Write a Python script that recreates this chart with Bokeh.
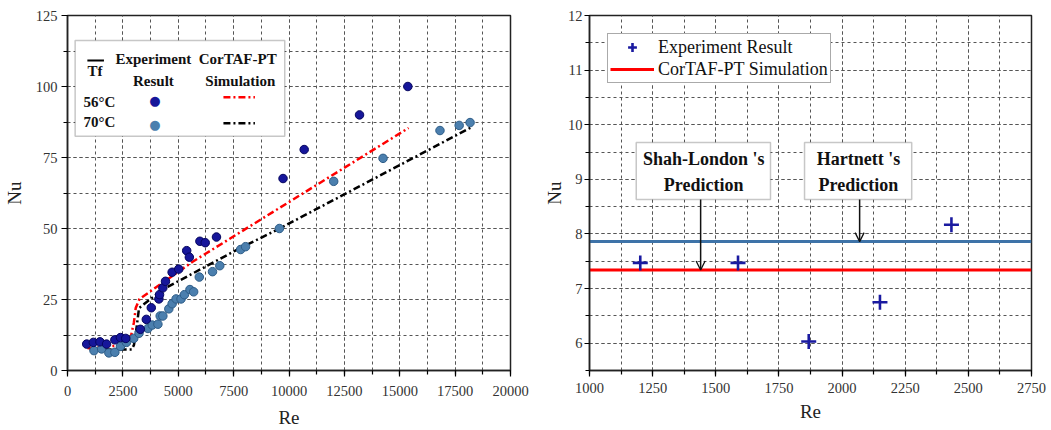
from bokeh.plotting import figure
from bokeh.layouts import row
from bokeh.models import (Range1d, SingleIntervalTicker, BoxAnnotation, Label, Arrow,
                          OpenHead, Legend, LegendItem)
from bokeh.embed import file_html
from bokeh.resources import INLINE

# ---------------- Left panel data ----------------
re_56 = [867, 1166, 1465, 1763, 2138, 2392, 2631, 3289, 3558, 3782, 4126, 4155, 4305,
         4424, 4724, 5022, 5381, 5501, 5978, 6218, 6726, 9731, 10686, 13184, 15366]
nu_56 = [9.3, 9.9, 10.1, 9.3, 10.8, 11.6, 11.3, 14.5, 18.0, 22.1, 25.2, 26.7, 29.1,
         31.4, 34.6, 35.7, 42.2, 39.9, 45.5, 45.0, 47.0, 67.6, 77.8, 90.0, 100.0]
re_70 = [1196, 1540, 1868, 2138, 2392, 2661, 2990, 3229, 3632, 3827, 4081, 4185, 4305,
         4574, 4724, 4903, 5126, 5278, 5529, 5695, 5950, 6547, 6875, 7817, 8040, 9566,
         12018, 14245, 16816, 17682, 18175]
nu_70 = [7.0, 7.6, 6.2, 6.4, 8.5, 9.9, 11.3, 13.1, 14.8, 16.0, 16.3, 19.2, 19.2,
         21.7, 23.5, 25.2, 25.2, 26.7, 28.5, 27.7, 32.9, 34.8, 36.9, 42.6, 43.6, 50.0,
         66.6, 74.7, 84.5, 86.3, 87.3]
sim56_re = [900, 2600, 2850, 3000, 3080, 3250, 5650, 15400]
sim56_nu = [7.8, 9.0, 11.5, 17.0, 22.0, 25.2, 38.3, 85.4]
sim70_re = [1000, 2900, 3000, 3100, 3230, 4300, 7600, 9700, 18200]
sim70_nu = [7.4, 7.4, 9.0, 14.0, 22.0, 28.5, 42.3, 50.5, 85.5]

# ---------------- Right panel data ----------------
re_exp = [1201, 1588, 1868, 2150, 2433]
nu_exp = [7.47, 7.47, 6.03, 6.75, 8.17]
line_re = [1000, 2750]
sim_nu = [7.34, 7.34]
hart_nu = [7.86, 7.86]

SERIF = "Liberation Serif"
DARK = "#16169a"
LIGHT = "#4b7fae"


def style(p, xint, yint, xlabel, ylabel):
    xt = SingleIntervalTicker(interval=xint, num_minor_ticks=2)
    yt = SingleIntervalTicker(interval=yint, num_minor_ticks=2)
    p.xaxis.ticker = xt
    p.yaxis.ticker = yt
    p.xgrid.ticker = xt
    p.ygrid.ticker = yt
    p.xaxis.axis_label = xlabel
    p.yaxis.axis_label = ylabel
    for ax in p.axis:
        ax.axis_line_width = 1.5
        ax.axis_line_color = "#222222"
        ax.major_tick_out = 6
        ax.major_tick_in = 0
        ax.minor_tick_out = 4
        ax.minor_tick_in = 0
        ax.major_tick_line_width = 1.2
        ax.minor_tick_line_width = 1.2
        ax.major_label_text_font = SERIF
        ax.major_label_text_font_size = "14.5px"
        ax.major_label_text_color = "#333333"
        ax.axis_label_text_font = SERIF
        ax.axis_label_text_font_style = "normal"
        ax.axis_label_text_font_size = "19px"
        ax.axis_label_text_color = "#222222"
    p.xaxis.major_label_standoff = 9
    p.xaxis.axis_label_standoff = 8
    p.yaxis.major_label_standoff = 4
    p.yaxis.axis_label_standoff = 8
    for g in p.grid:
        g.grid_line_color = "#555555"
        g.grid_line_dash = "3 3"
        g.grid_line_width = 1
        g.minor_grid_line_color = "#555555"
        g.minor_grid_line_dash = "3 3"
        g.minor_grid_line_width = 1
    p.outline_line_color = "#222222"
    p.outline_line_width = 1.5
    p.outline_line_alpha = 1.0
    p.background_fill_color = "white"
    p.border_fill_color = "white"


# ================= Left figure =================
p1 = figure(width=540, height=430, x_range=Range1d(0, 20000), y_range=Range1d(0, 125),
            output_backend="svg", toolbar_location=None,
            min_border_left=64, min_border_right=30, min_border_top=13, min_border_bottom=58)
style(p1, 2500, 25, "Re", "Nu")

p1.line(sim56_re, sim56_nu, line_color="red", line_width=2.5, line_dash="7 3 2 3")
p1.line(sim70_re, sim70_nu, line_color="black", line_width=2.5, line_dash="7 3 2 3")
p1.scatter(re_70, nu_70, size=8.5, fill_color=LIGHT, line_color="#2e5d88", line_width=1)
p1.scatter(re_56, nu_56, size=8.5, fill_color=DARK, line_color="#05055e", line_width=1)

# custom table legend
p1.add_layout(BoxAnnotation(left=345, right=9807, top=116.2, bottom=82.5,
                            fill_color="white", fill_alpha=1.0,
                            line_color="#444444", line_width=1.5))
p1.add_layout(BoxAnnotation(left=897, right=1646, top=109.5, bottom=108.8,
                            fill_color="black", fill_alpha=1.0, line_color=None))


def lbl(p, x, y, t, size="15px", bold=True, color="#111111", font=SERIF, align="center"):
    p.add_layout(Label(x=x, y=y, text=t, text_font=font, text_font_size=size,
                       text_font_style="bold" if bold else "normal",
                       text_color=color, text_align=align, text_baseline="middle"))


lbl(p1, 1242, 105.6, "Tf")
lbl(p1, 3879, 109.8, "Experiment")
lbl(p1, 3879, 101.9, "Result")
lbl(p1, 7682, 109.8, "CorTAF-PT")
lbl(p1, 7803, 101.9, "Simulation")
lbl(p1, 1443, 94.7, "56°C")
lbl(p1, 1443, 87.5, "70°C")
lbl(p1, 3946, 94.9, "●", size="13px", bold=False, color=DARK, font="DejaVu Sans")
lbl(p1, 3946, 86.6, "●", size="13px", bold=False, color=LIGHT, font="DejaVu Sans")
p1.add_layout(Arrow(start=None, end=None, x_start=7040, y_start=96.2, x_end=8462, y_end=96.2,
                    line_color="red", line_width=2.5, line_dash="7 3 2 3"))
p1.add_layout(Arrow(start=None, end=None, x_start=7040, y_start=87.1, x_end=8462, y_end=87.1,
                    line_color="black", line_width=2.5, line_dash="7 3 2 3"))

# ================= Right figure =================
p2 = figure(width=511, height=430, x_range=Range1d(1000, 2750), y_range=Range1d(5.5, 12),
            output_backend="svg", toolbar_location=None,
            min_border_left=49, min_border_right=20, min_border_top=15, min_border_bottom=60)
style(p2, 250, 1, "Re", "Nu")
p2.yaxis.major_label_standoff = 2
p2.yaxis.axis_label_standoff = 0
p2.yaxis.major_tick_out = 5
p2.xaxis.major_label_standoff = 6
p2.xaxis.axis_label_standoff = 5

hart = p2.line(line_re, hart_nu, line_color="#3e73a8", line_width=3)
sim = p2.line(line_re, sim_nu, line_color="red", line_width=3)
exp = p2.scatter(re_exp, nu_exp, marker="cross", size=15, line_color="#1a1aa0", line_width=2.6)

for (l, r, tx, t1, t2, ax_x, ax_y) in [(1185, 1716.6, 1452, "Shah-London 's", "Prediction", 1440, 7.34),
                                         (1851.4, 2275.7, 2064.8, "Hartnett 's", "Prediction", 2069.5, 7.86)]:
    p2.add_layout(BoxAnnotation(left=l, right=r, top=9.676, bottom=8.633,
                                fill_color="white", fill_alpha=1.0,
                                line_color="#444444", line_width=1.5))
    lbl(p2, tx, 9.372, t1, size="18px")
    lbl(p2, tx, 8.902, t2, size="18px")
    p2.add_layout(Arrow(end=OpenHead(size=9, line_width=1.3, line_color="#111111"),
                        x_start=ax_x, y_start=8.633, x_end=ax_x, y_end=ax_y,
                        line_color="#111111", line_width=1.5))

legend = Legend(items=[LegendItem(label="Experiment Result", renderers=[exp]),
                       LegendItem(label="CorTAF-PT Simulation", renderers=[sim])],
                location="top_left", margin=18, padding=2, spacing=0,
                glyph_width=44, glyph_height=22, label_height=22, label_standoff=4,
                label_text_font=SERIF, label_text_font_size="18px", label_text_color="#111111",
                border_line_color="#555555", border_line_width=1.2,
                background_fill_color="white", background_fill_alpha=1.0)
p2.add_layout(legend)

layout = row(p1, p2)
open("out.html", "w").write(file_html(layout, INLINE))
